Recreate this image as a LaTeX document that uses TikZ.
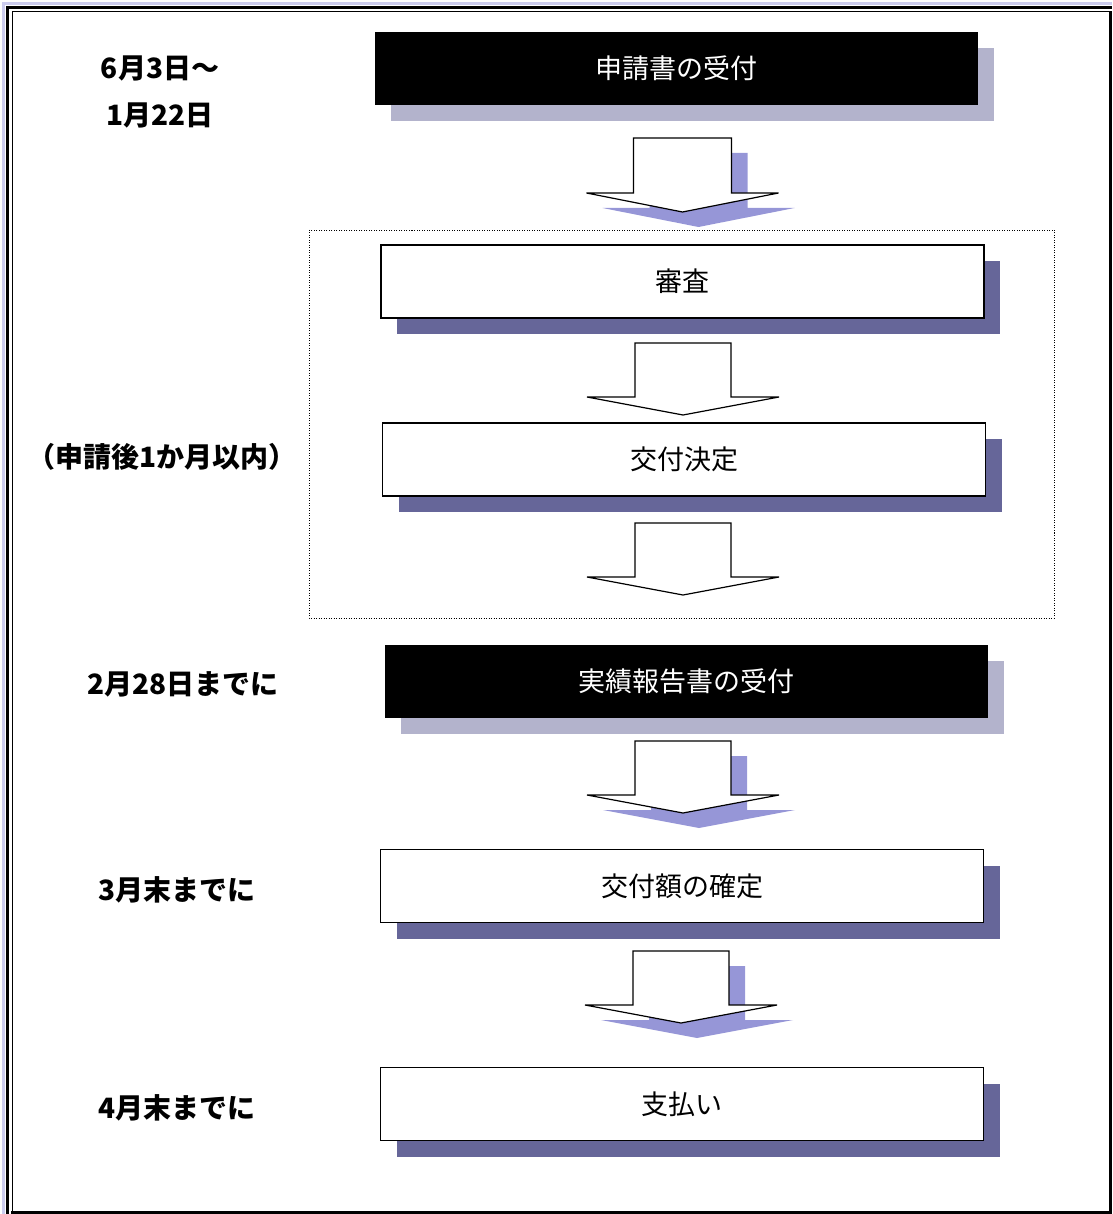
\documentclass[tikz,border=0pt]{standalone}
\usepackage{fontspec}
\setmainfont{Noto Sans CJK JP}
\usetikzlibrary{shadows}
\definecolor{paleshadow}{RGB}{179,179,204}
\definecolor{darkshadow}{RGB}{102,102,153}
\definecolor{arrowshade}{RGB}{150,150,215}
\definecolor{framelilac}{RGB}{204,204,238}
\begin{document}
\begin{tikzpicture}[x=1pt,y=-1pt,
  stagebox/.style={minimum width=603pt,minimum height=73pt,inner sep=0pt,font=\fontsize{27}{31}\selectfont},
  darkstage/.style={stagebox,fill=black,text=white,drop shadow={shadow xshift=16pt,shadow yshift=-16pt,fill=paleshadow,opacity=1}},
  lightstage/.style={stagebox,draw=black,line width=1.4pt,fill=white,drop shadow={shadow xshift=16pt,shadow yshift=-16pt,fill=darkshadow,opacity=1}},
  datelabel/.style={font=\fontsize{28}{32}\selectfont\bfseries,inner sep=0pt},
  flowarrow/.style={draw=black,line width=1.2pt,fill=white,line join=miter},
  arrowshadow/.style={fill=arrowshade,draw=none}]

\useasboundingbox (0,0) rectangle (1112,1214);

% frame
\draw [framelilac,line width=3pt] (3.5,1214) -- (3.5,3.5) -- (1112,3.5);
\draw [line width=2.5pt] (7.5,1214) -- (7.5,7.5) -- (1112,7.5);
\draw [line width=1pt] (12,1214) -- (12,12) -- (1112,12);
\draw [line width=3pt] (1110,12) -- (1110,1212) -- (11,1212);

% dotted frame round the review steps
\draw [dash pattern=on 1pt off 1.5pt,line width=0.9pt] (309,230) rectangle (1054,618);

\node [darkstage]  (recv)    at (676.5,68.5) {申請書の受付};
\node [lightstage] (exam)    at (682.5,281.5) {審査};
\node [lightstage] (decide)  at (684,459.5) {交付決定};
\node [darkstage]  (report)  at (686.5,681.5) {実績報告書の受付};
\node [lightstage] (confirm) at (682,886) {交付額の確定};
\node [lightstage] (pay)     at (682,1104) {支払い};

\node [datelabel] (start)  at (160,68) {6月3日～};
\node [datelabel] (close)  at (160,115) {1月22日};
\node [datelabel] (within) at (162,457) {（申請後1か月以内）};
\node [datelabel] (rdue)   at (183,684) {2月28日までに};
\node [datelabel] (cdue)   at (177,890) {3月末までに};
\node [datelabel] (pdue)   at (177,1108) {4月末までに};

% block arrows
\fill [arrowshadow,shift={(698.5,153)}] (-49,0) -- (49,0) -- (49,55) -- (96,55) -- (0,74) -- (-96,55) -- (-49,55) -- cycle;
\draw [flowarrow,shift={(682.5,138)}] (-49,0) -- (49,0) -- (49,55) -- (96,55) -- (0,74) -- (-96,55) -- (-49,55) -- cycle;

\draw [flowarrow,shift={(683,343)}] (-48,0) -- (48,0) -- (48,54) -- (96,54) -- (0,72) -- (-96,54) -- (-48,54) -- cycle;

\draw [flowarrow,shift={(683,523)}] (-48,0) -- (48,0) -- (48,54) -- (96,54) -- (0,72) -- (-96,54) -- (-48,54) -- cycle;

\fill [arrowshadow,shift={(699,756)}] (-48,0) -- (48,0) -- (48,54) -- (96,54) -- (0,72) -- (-96,54) -- (-48,54) -- cycle;
\draw [flowarrow,shift={(683,741)}] (-48,0) -- (48,0) -- (48,54) -- (96,54) -- (0,72) -- (-96,54) -- (-48,54) -- cycle;

\fill [arrowshadow,shift={(697,966)}] (-48,0) -- (48,0) -- (48,54) -- (96,54) -- (0,72) -- (-96,54) -- (-48,54) -- cycle;
\draw [flowarrow,shift={(681,951)}] (-48,0) -- (48,0) -- (48,54) -- (96,54) -- (0,72) -- (-96,54) -- (-48,54) -- cycle;

\end{tikzpicture}
\end{document}
